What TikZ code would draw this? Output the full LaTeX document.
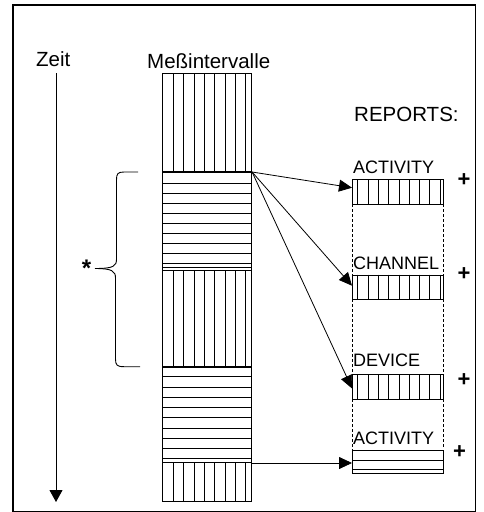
\documentclass[tikz,border=0pt]{standalone}
\usepackage{fontspec}
\setmainfont{Liberation Sans}
\usetikzlibrary{arrows.meta,calc}
\begin{document}
\begin{tikzpicture}[x=1pt,y=-1pt,
  lbl/.style={anchor=base west,inner sep=0pt,font=\fontsize{20.5}{24}\selectfont},
  rlbl/.style={anchor=base west,inner sep=0pt,font=\fontsize{18}{21}\selectfont},
  plussign/.style={inner sep=0pt,font=\bfseries\fontsize{22}{24}\selectfont},
  stripe/.style={line width=0.8pt},
  seg/.style={draw,line width=1.1pt,rectangle,inner sep=0pt,minimum width=88.7pt,anchor=north west},
  rep/.style={draw,line width=0.9pt,rectangle,inner sep=0pt,minimum width=90.7pt,anchor=north west},
  arr/.style={line width=0.8pt,-{Triangle[length=13pt,width=12pt]}},
  dsh/.style={line width=0.8pt,dash pattern=on 3pt off 2pt},
]
\useasboundingbox (0,0) rectangle (483,512);
% frame
\draw[line width=1.8pt] (13,5) rectangle (475.5,511.5);

% time axis
\node[lbl] (zeit) at (36,66) {Zeit};
\coordinate (zt) at (56,73);
\coordinate (zb) at (56,502);
\draw[line width=0.9pt,-{Triangle[length=12pt,width=13pt]}] (zt) -- (zb);

% column
\node[lbl] (mess) at (147,68) {Meßintervalle};
\node[seg,minimum height=99pt] (v1) at (162.3,73) {};
\node[seg,minimum height=98pt] (h1) at (162.3,172) {};
\node[seg,minimum height=97pt] (v2) at (162.3,270) {};
\node[seg,minimum height=95pt] (h2) at (162.3,367) {};
\node[seg,minimum height=39pt] (v3) at (162.3,462) {};
\foreach \n in {v1,v2,v3}{
  \foreach \i in {0,...,7}{
    \draw[stripe] ($(\n.north west)+(11+10.35*\i,0)$) -- ($(\n.south west)+(11+10.35*\i,0)$);
  }
}
\foreach \i in {0,...,8}{
  \draw[stripe] ($(h1.north west)+(0,11.3+10*\i)$) -- ($(h1.north east)+(0,11.3+10*\i)$);
  \draw[stripe] ($(h2.north west)+(0,9.7+10.25*\i)$) -- ($(h2.north east)+(0,9.7+10.25*\i)$);
}
\draw[stripe] ($(h1.south west)+(0,-3.3)$) -- ($(h1.south east)+(0,-3.3)$);
\draw[line width=1.8pt] (h1.north west) -- (h1.north east);
\draw[line width=1.8pt] (h2.north west) -- (h2.north east);

% brace
\draw[line width=0.9pt] (138,172) -- (124,172) .. controls (117.5,172) and (116.5,174) .. (116.5,180)
  -- (116.5,259) .. controls (116.5,266) and (114,268.5) .. (95,268.5);
\draw[line width=0.9pt] (95,268.5) .. controls (112,268.5) and (115.5,271) .. (115.5,278)
  -- (115.5,359) .. controls (115.5,365) and (117,366.7) .. (124,366.7) -- (140,366.7);
\node[inner sep=0pt,font=\bfseries\fontsize{24}{26}\selectfont] (star) at (86.5,268) {*};

% reports
\node[lbl] (reports) at (354,121) {REPORTS:};
\node[rlbl] (l1) at (353,173.3) {ACTIVITY};
\node[rlbl] (l2) at (353,269.3) {CHANNEL};
\node[rlbl] (l3) at (353,366) {DEVICE};
\node[rlbl] (l4) at (353,444) {ACTIVITY};
\node[rep,minimum height=24.5pt] (act1) at (352,179) {};
\node[rep,minimum height=24.5pt] (chan) at (352,274.5) {};
\node[rep,minimum height=25pt] (dev) at (352,374) {};
\node[rep,minimum height=22.5pt] (act2) at (352,450) {};
\foreach \n in {act1,chan,dev}{
  \foreach \i in {0,...,8}{
    \draw[stripe] ($(\n.north west)+(5.7+10.3*\i,0)$) -- ($(\n.south west)+(5.7+10.3*\i,0)$);
  }
}
\draw[stripe] ($(act2.north west)+(0,10)$) -- ($(act2.north east)+(0,10)$);
\draw[stripe] ($(act2.north west)+(0,19.5)$) -- ($(act2.north east)+(0,19.5)$);
\draw[dsh] (act1.south west) -- (act2.north west);
\draw[dsh] (act1.south east) -- ($(act2.north east)+(0,-2)$);

\node[plussign] (p1) at (464,180) {+};
\node[plussign] (p2) at (464,274.5) {+};
\node[plussign] (p3) at (464,380) {+};
\node[plussign] (p4) at (459.5,452.5) {+};

% arrows
\draw[arr] (h1.north east) -- ([yshift=4pt]act1.west);
\draw[arr] (h1.north east) -- ([yshift=1.5pt]chan.west);
\draw[arr] (h1.north east) -- ([yshift=-1.5pt]dev.west);
\draw[arr] ([yshift=-1pt]v3.north east) -- ([yshift=-1pt]v3.north east -| act2.west);
\end{tikzpicture}
\end{document}
